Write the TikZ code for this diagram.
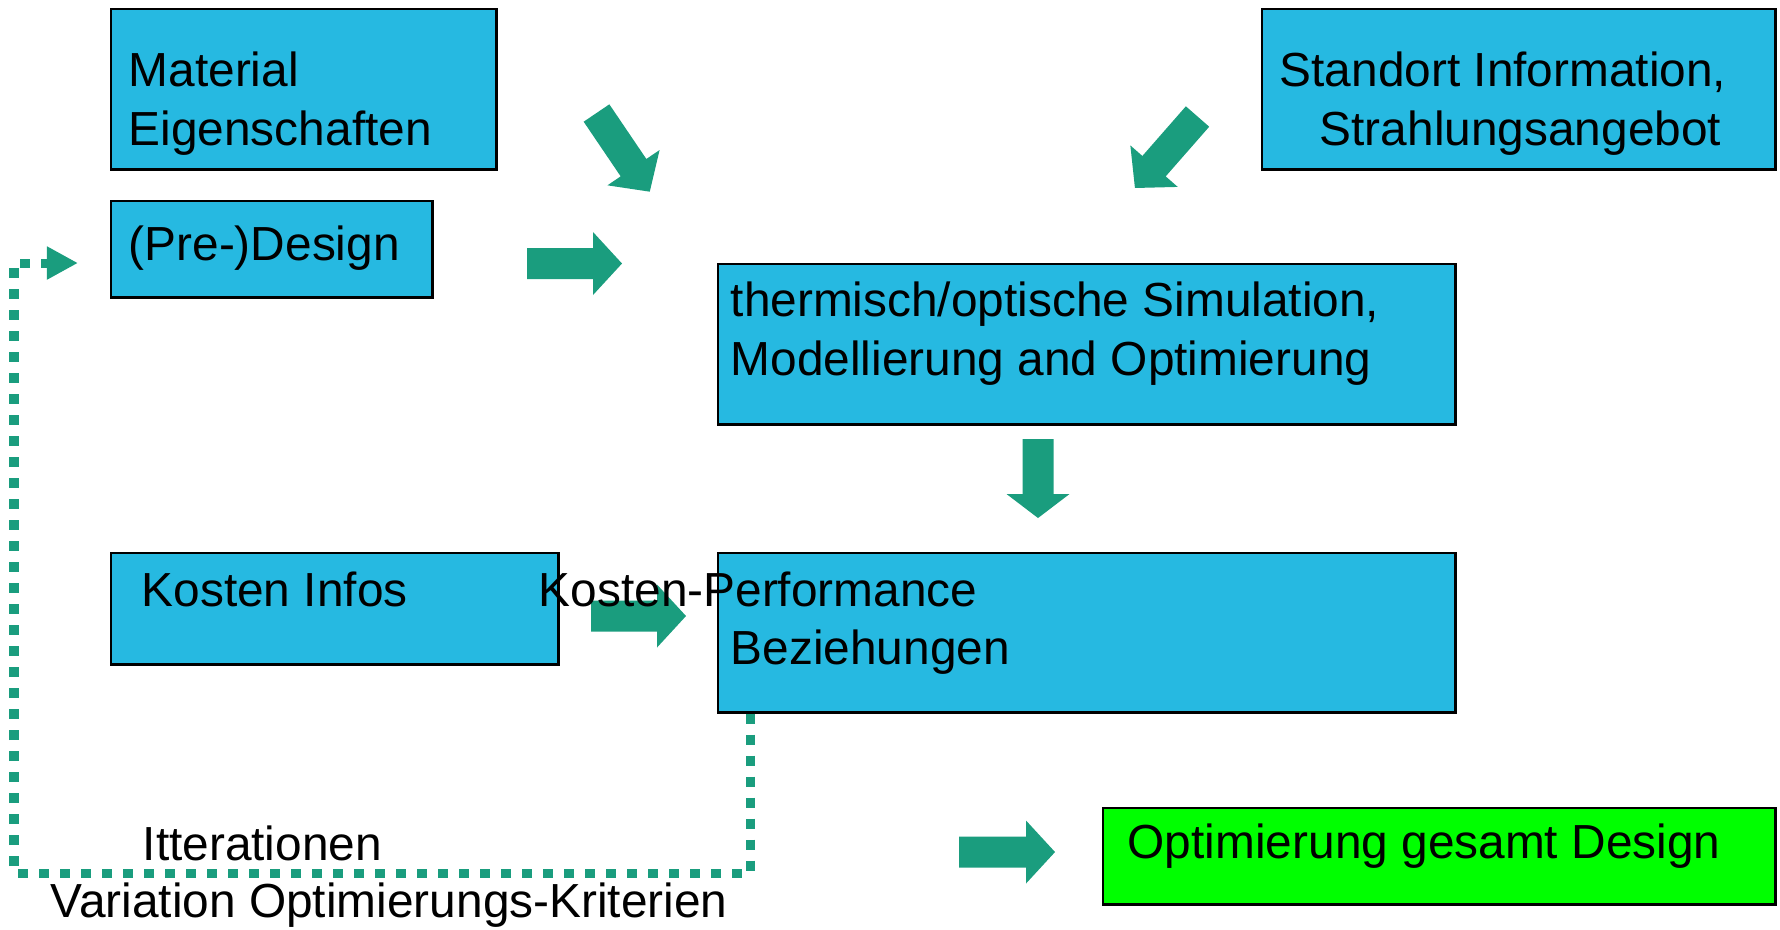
\documentclass[tikz,border=0pt]{standalone}
\usepackage{fontspec}
\setmainfont{Liberation Sans}
\usepackage{xcolor}
\usepackage{tikz}
\usetikzlibrary{arrows.meta,positioning}

\definecolor{boxblue}{RGB}{38,185,225}
\definecolor{arrteal}{RGB}{26,157,126}
\definecolor{optgreen}{RGB}{0,255,0}

\begin{document}
\begin{tikzpicture}[x=0.01cm,y=-0.01cm,
  box/.style={draw=black,line width=0.7pt,fill=boxblue,anchor=north west,inner sep=0pt},
  goal/.style={box,fill=optgreen},
  txt/.style={anchor=base west,inner sep=0pt,align=left,
              font=\fontsize{13.6}{16.5}\selectfont},
  iter/.style={draw=arrteal,line width=0.9mm,dash pattern=on 1mm off 1.1mm,
               -{Triangle[length=3.1mm,width=3.1mm]}},
  pics/blockarr/.style args={#1/#2}{code={
    \fill[arrteal] (0,-15.5) -- (#1-#2,-15.5) -- (#1-#2,-31.5) -- (#1,0)
      -- (#1-#2,31.5) -- (#1-#2,15.5) -- (0,15.5) -- cycle;}}]

  \useasboundingbox (0,0) rectangle (1780,929);

  % boxes
  \node[box,minimum width=3.85cm,minimum height=1.60cm] (mat) at (110,8) {};
  \node[box,minimum width=3.21cm,minimum height=0.96cm] (design) at (110,200) {};
  \node[box,minimum width=5.13cm,minimum height=1.60cm] (standort) at (1261,8) {};
  \node[box,minimum width=7.37cm,minimum height=1.60cm] (sim) at (717,263) {};
  \node[box,minimum width=4.47cm,minimum height=1.11cm] (kinfo) at (110,552) {};
  \node[box,minimum width=7.37cm,minimum height=1.59cm] (kperf) at (717,552) {};
  \node[goal,minimum width=6.72cm,minimum height=0.96cm] (opt) at (1102,807) {};

  % iteration loop
  \coordinate (loopin) at (78,263);
  \draw[iter] ([xshift=0.33cm]kperf.south west) -- ++(0,160) -| (14,263) -- (loopin);

  % block arrows
  \pic[rotate=-55.9] at (596.5,113) {blockarr=95/29};
  \pic[rotate=-131.2] at (1197.5,116.5) {blockarr=95/29};
  \pic at (527,263.5) {blockarr=95/29};
  \pic[rotate=-90] at (1038,439) {blockarr=79/24};
  \pic at (591,616) {blockarr=95/29};
  \pic at (959,852) {blockarr=96/29};

  % texts (base = last line)
  \node[txt] (matlbl) at (128,145) {Material\\Eigenschaften};
  \node[txt] (deslbl) at (128,260) {(Pre-)Design};
  \node[txt] (stdlbl) at (1279,145) {Standort Information,\\\hspace*{0.4cm}Strahlungsangebot};
  \node[txt] (simlbl) at (730,375) {thermisch/optische Simulation,\\Modellierung and Optimierung};
  \node[txt] (kinlbl) at (141,606) {Kosten Infos};
  \node[txt] (kpflbl) at (538,606) {Kosten-Performance};
  \node[txt] (bezlbl) at (730,664) {Beziehungen};
  \node[txt] (optlbl) at (1127,858) {Optimierung gesamt Design};
  \node[txt] (itlbl) at (142,860) {Itterationen};
  \node[txt] (varlbl) at (50,917) {Variation Optimierungs-Kriterien};
\end{tikzpicture}
\end{document}
